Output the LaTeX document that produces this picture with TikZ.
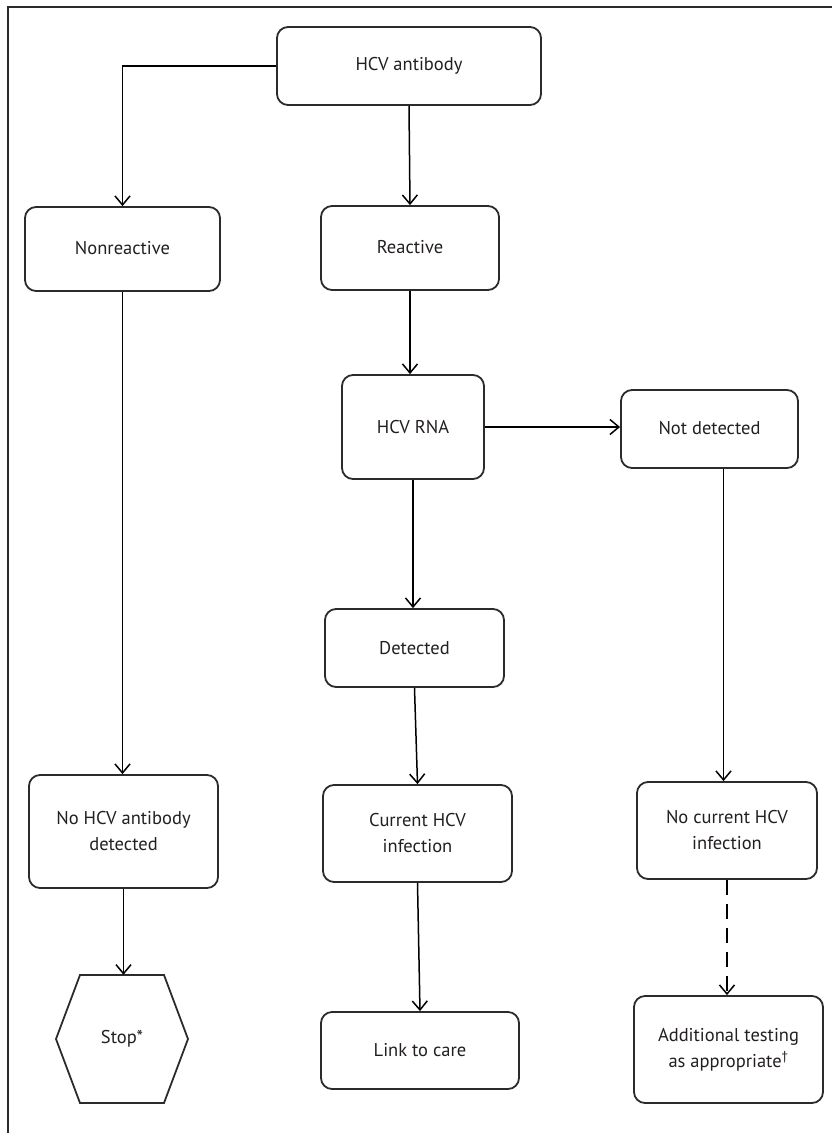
\documentclass[tikz,border=0pt]{standalone}
\usepackage{fontspec}
\setmainfont{PT Sans}
\usetikzlibrary{arrows.meta}
\definecolor{boxc}{HTML}{2B2B2B}
\definecolor{txt}{HTML}{231F20}
\begin{document}
\begin{tikzpicture}[x=1pt,y=-1pt,
  box/.style={draw=boxc, line width=1.8pt, rounded corners=11pt, align=center,
    font=\fontsize{18.5}{26}\selectfont, text=txt, inner sep=0pt},
  plain/.style={align=center, font=\fontsize{18.5}{26}\selectfont, text=txt, inner sep=0pt},
  arr/.style={draw=black, line width=1.5pt, -{Straight Barb[length=9pt,width=15pt,line width=1.5pt]}},
  dsh/.style={dash pattern=on 15pt off 9pt}]
\useasboundingbox (0,0) rectangle (832,1133);
% frame
\draw[line width=2.2pt, draw=boxc] (8,1133) -- (8,7) -- (832,7);
% nodes
\node[box, minimum width=264pt, minimum height=78pt] (ab) at (409,66) {\raisebox{5pt}{HCV antibody}};
\node[box, minimum width=195pt, minimum height=84pt] (nr) at (122.5,249) {\raisebox{3pt}{Nonreactive}};
\node[box, minimum width=178pt, minimum height=84pt] (re) at (410,248) {\raisebox{3pt}{Reactive}};
\node[box, minimum width=142pt, minimum height=104pt] (rna) at (413,427) {HCV RNA};
\node[box, minimum width=177pt, minimum height=78pt] (nd) at (709.5,429) {\raisebox{2pt}{Not detected}};
\node[box, minimum width=179pt, minimum height=78pt] (det) at (414.5,648) {Detected};
\node[box, minimum width=189pt, minimum height=113pt] (nab) at (123.5,831.5) {No HCV antibody\\detected};
\node[box, minimum width=189pt, minimum height=97pt] (cur) at (417.5,833.5) {Current HCV\\infection};
\node[box, minimum width=180pt, minimum height=97pt] (ncur) at (727,830.5) {No current HCV\\infection};
\node[plain, minimum width=132pt, minimum height=128pt] (stop) at (122,1039) {Stop*};
\draw[draw=boxc, line width=1.8pt] (56,1039) -- (80,975) -- (164,975) -- (188,1039) -- (164,1103) -- (80,1103) -- cycle;
\node[box, minimum width=198pt, minimum height=77pt] (link) at (420,1050.5) {Link to care};
\node[box, minimum width=189pt, minimum height=107pt] (add) at (728.5,1049.5) {Additional testing\\as appropriate\textsuperscript{\dag}};
% connectors
\draw[arr] (ab.west) -| (nr.north);
\draw[arr] (ab.south) -- (re.north);
\draw[arr] (re.south) -- (re.south |- rna.north);
\draw[arr] (rna.east) -- (rna.east -| nd.west);
\draw[arr] (rna.south) -- (rna.south |- det.north);
\draw[arr] (nr.south) -- (nr.south |- nab.north);
\draw[arr] (det.south) -- (cur.north);
\draw[arr] ([xshift=14pt]nd.south) -- ([xshift=14pt]nd.south |- ncur.north);
\draw[arr] (nab.south) -- (nab.south |- stop.north);
\draw[arr] (cur.south) -- (link.north);
\draw[arr, dsh] (ncur.south) -- (ncur.south |- add.north);
\end{tikzpicture}
\end{document}
